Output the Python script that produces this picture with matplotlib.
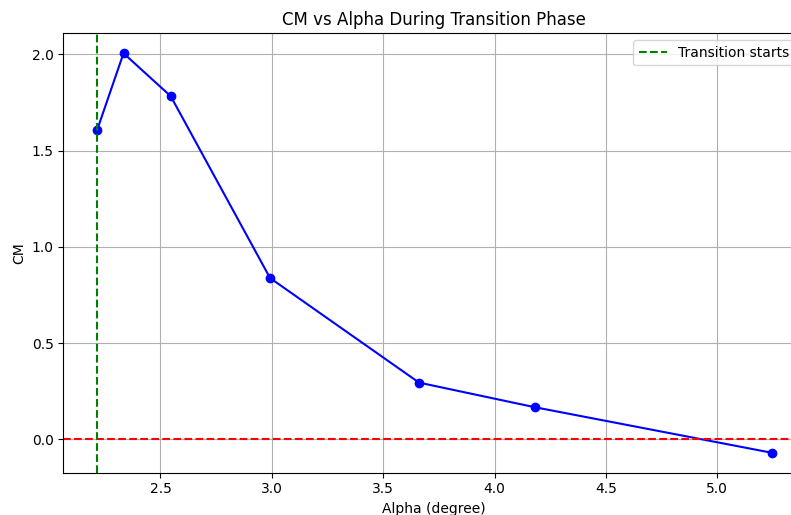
import matplotlib
matplotlib.use("Agg")
import matplotlib.pyplot as plt

# data
alpha = [2.215, 2.334, 2.546, 2.992, 3.661, 4.182, 5.244]
cm = [1.605, 2.005, 1.782, 0.838, 0.295, 0.167, -0.069]
transition_alpha = 2.215

fig = plt.figure(figsize=(7.91, 5.15), dpi=100)
# axes runs past the right edge, as in the (cropped) reference
ax = fig.add_axes([63.3 / 791, 42.3 / 515, 742 / 791, 439.4 / 515])

ax.plot(alpha, cm, marker='o', color='blue')
ax.axhline(0, color='red', linestyle='--')
ax.axvline(transition_alpha, color='green', linestyle='--', label='Transition starts')

ax.set_title('CM vs Alpha During Transition Phase')
ax.set_xlabel('Alpha (degree)')
ax.set_ylabel('CM')
ax.grid(True)
ax.legend(loc='upper right', bbox_to_anchor=(0.995, 1.0))

fig.savefig('out.png', dpi=100)
